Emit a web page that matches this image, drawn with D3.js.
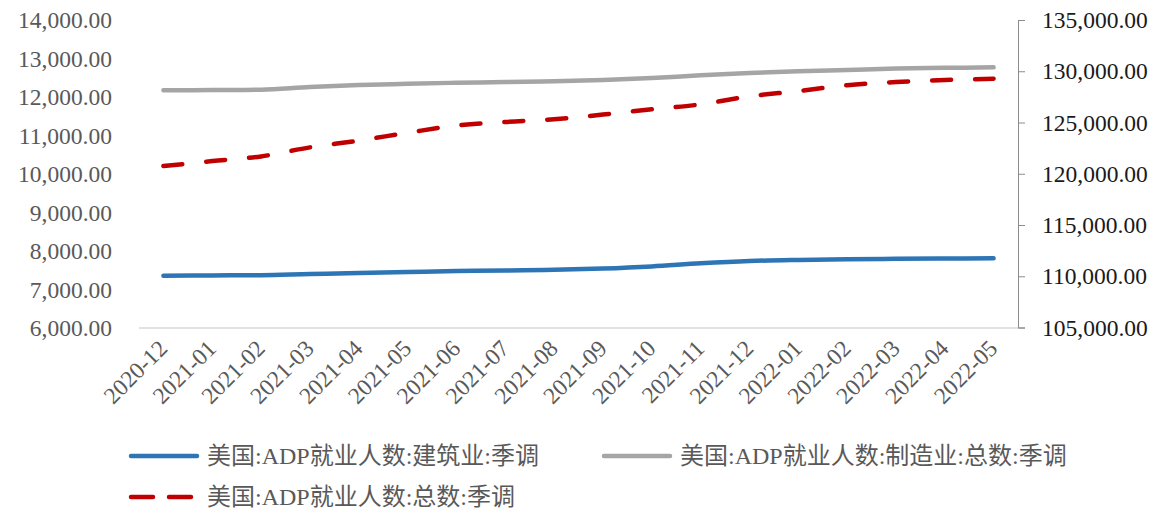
<!DOCTYPE html>
<html>
<head>
<meta charset="utf-8">
<script src="https://cdn.jsdelivr.net/npm/d3@7"></script>
<style>
  html, body { margin: 0; padding: 0; background: #ffffff; }
  svg { display: block; }
  text { font-family: "Liberation Serif", "Times New Roman", "Noto Sans CJK SC", serif; }
</style>
</head>
<body>
<svg id="chart" width="1163" height="509"></svg>
<script>
// Months on the category axis
const months = [
  "2020-12", "2021-01", "2021-02", "2021-03", "2021-04", "2021-05",
  "2021-06", "2021-07", "2021-08", "2021-09", "2021-10", "2021-11",
  "2021-12", "2022-01", "2022-02", "2022-03", "2022-04", "2022-05"
];

// ADP employment, construction, seasonally adjusted (left axis)
const construction = [
  7358, 7366, 7371, 7402, 7428, 7454, 7480, 7493, 7511,
  7545, 7600, 7680, 7740, 7769, 7787, 7797, 7805, 7810
];

// ADP employment, manufacturing total, seasonally adjusted (left axis)
const manufacturing = [
  12173, 12181, 12190, 12259, 12311, 12342, 12370, 12389, 12407,
  12441, 12493, 12563, 12622, 12667, 12700, 12739, 12757, 12770
];

// ADP employment, total, seasonally adjusted (right axis)
const totalEmployment = [
  120746, 121234, 121693, 122572, 123235, 123997, 124700, 125051, 125315,
  125774, 126291, 126769, 127550, 128068, 128634, 128946, 129141, 129268
];

// Axis ticks
const leftTicks = [6000, 7000, 8000, 9000, 10000, 11000, 12000, 13000, 14000];
const rightTicks = [105000, 110000, 115000, 120000, 125000, 130000, 135000];

// Legend labels
const seriesNames = [
  "美国:ADP就业人数:建筑业:季调",
  "美国:ADP就业人数:制造业:总数:季调",
  "美国:ADP就业人数:总数:季调"
];

const svg = d3.select("#chart");
const plotLeft = 139, plotRight = 1018, plotTop = 20, plotBottom = 328;
const fmt = d3.format(",.2f");

const x = d3.scalePoint().domain(months).range([plotLeft, plotRight]).padding(0.5);
const yLeft = d3.scaleLinear().domain([6000, 14000]).range([plotBottom, plotTop]);
const yRight = d3.scaleLinear().domain([105000, 135000]).range([plotBottom - 0.5, plotTop]);

// Baseline of the plot area
svg.append("line")
  .attr("x1", plotLeft).attr("x2", plotRight)
  .attr("y1", plotBottom).attr("y2", plotBottom)
  .attr("stroke", "#d9d9d9").attr("stroke-width", 1.5);

// Left axis labels only (no axis line)
const leftAxis = svg.append("g")
  .attr("transform", `translate(${plotLeft},0)`)
  .call(d3.axisLeft(yLeft).tickValues(leftTicks).tickFormat(fmt).tickSize(0).tickPadding(27));
leftAxis.select(".domain").remove();
leftAxis.selectAll("text")
  .attr("fill", "#595959").attr("font-size", "23.5px")
  .attr("font-family", "'Liberation Serif', 'Times New Roman', serif");

// Right axis with line and outward ticks
const rightAxis = svg.append("g")
  .attr("transform", `translate(${plotRight},0)`)
  .call(d3.axisRight(yRight).tickValues(rightTicks).tickFormat(fmt).tickSizeInner(7).tickSizeOuter(7).tickPadding(17));
rightAxis.select(".domain").attr("stroke", "#8c8c8c");
rightAxis.selectAll(".tick line").attr("stroke", "#8c8c8c");
rightAxis.selectAll("text")
  .attr("fill", "#1a1a1a").attr("font-size", "23.5px")
  .attr("font-family", "'Liberation Serif', 'Times New Roman', serif");

// Category labels, rotated
const bottomAxis = svg.append("g")
  .attr("transform", `translate(0,${plotBottom})`)
  .call(d3.axisBottom(x).tickSize(0).tickPadding(0));
bottomAxis.select(".domain").remove();
bottomAxis.selectAll("text")
  .attr("fill", "#595959").attr("font-size", "23.5px")
  .attr("font-family", "'Liberation Serif', 'Times New Roman', serif")
  .attr("text-anchor", "end")
  .attr("dy", "0.35em")
  .attr("transform", "translate(-1,16) rotate(-45)");

// Series lines
const curve = d3.curveCatmullRom.alpha(0.5);
const series = [
  { values: construction, scale: yLeft, color: "#2e75b6", dash: null },
  { values: manufacturing, scale: yLeft, color: "#a5a5a5", dash: null },
  { values: totalEmployment, scale: yRight, color: "#c00000", dash: "19 24" }
];

series.forEach(s => {
  const line = d3.line()
    .x((d, i) => x(months[i]))
    .y(d => s.scale(d))
    .curve(curve);
  svg.append("path")
    .datum(s.values)
    .attr("d", line)
    .attr("fill", "none")
    .attr("stroke", s.color)
    .attr("stroke-width", 4.5)
    .attr("stroke-linecap", "round")
    .attr("stroke-linejoin", "round")
    .attr("stroke-dasharray", s.dash);
});

// Legend
const legendItems = [
  { name: seriesNames[0], color: "#2e75b6", dash: null, x: 131, y: 456 },
  { name: seriesNames[1], color: "#a5a5a5", dash: null, x: 604, y: 456 },
  { name: seriesNames[2], color: "#c00000", dash: "22 16", x: 131, y: 497 }
];
const legend = svg.append("g");
legendItems.forEach(item => {
  legend.append("line")
    .attr("x1", item.x).attr("x2", item.x + 66)
    .attr("y1", item.y).attr("y2", item.y)
    .attr("stroke", item.color).attr("stroke-width", 4.5)
    .attr("stroke-linecap", "round")
    .attr("stroke-dasharray", item.dash);
  legend.append("text")
    .attr("x", item.x + 76).attr("y", item.y)
    .attr("dy", "0.35em")
    .attr("fill", "#595959")
    .attr("font-size", "24px")
    .text(item.name);
});
</script>
</body>
</html>
